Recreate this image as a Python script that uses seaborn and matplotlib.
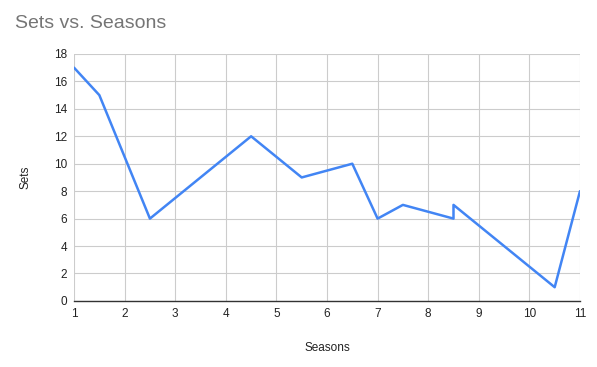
import matplotlib
matplotlib.use("Agg")
import matplotlib.pyplot as plt
import seaborn as sns
import pandas as pd

seasons = [1, 1.5, 2.5, 4.5, 5.5, 6.5, 7, 7.5, 8.5, 8.5, 10.5, 11]
sets = [17, 15, 6, 12, 9, 10, 6, 7, 6, 7, 1, 8]
x_ticks = list(range(1, 12))
y_ticks = list(range(0, 19, 2))

df = pd.DataFrame({"Seasons": seasons, "Sets": sets})

sns.set_style("white")
plt.rcParams['font.family'] = ['Liberation Sans', 'DejaVu Sans']

fig = plt.figure(figsize=(5.97, 3.67), dpi=100)
ax = fig.add_axes([0.124, 0.180, 0.8475, 0.673])
sns.lineplot(data=df, x="Seasons", y="Sets", sort=False, estimator=None,
             color="#4285f4", linewidth=1.8, ax=ax)
ax.set_xlim(1, 11)
ax.set_ylim(0, 18)
ax.set_xticks(x_ticks)
ax.set_yticks(y_ticks)
ax.grid(True, color="#cccccc", linewidth=0.8)
ax.set_axisbelow(True)
for s in ["top", "right", "left"]:
    ax.spines[s].set_visible(False)
ax.spines["bottom"].set_color("#333333")
ax.spines["bottom"].set_linewidth(1)
ax.tick_params(axis="both", length=0, labelsize=8.5, colors="#222222", pad=5)
ax.set_xlabel("Seasons", fontsize=8.5, color="#222222", labelpad=16)
ax.set_ylabel("Sets", fontsize=8.5, color="#222222", labelpad=16)
fig.text(15/597, 1 - 23/367, "Sets vs. Seasons", fontsize=14, color="#757575", va="center")
fig.savefig("out.png", dpi=100)
